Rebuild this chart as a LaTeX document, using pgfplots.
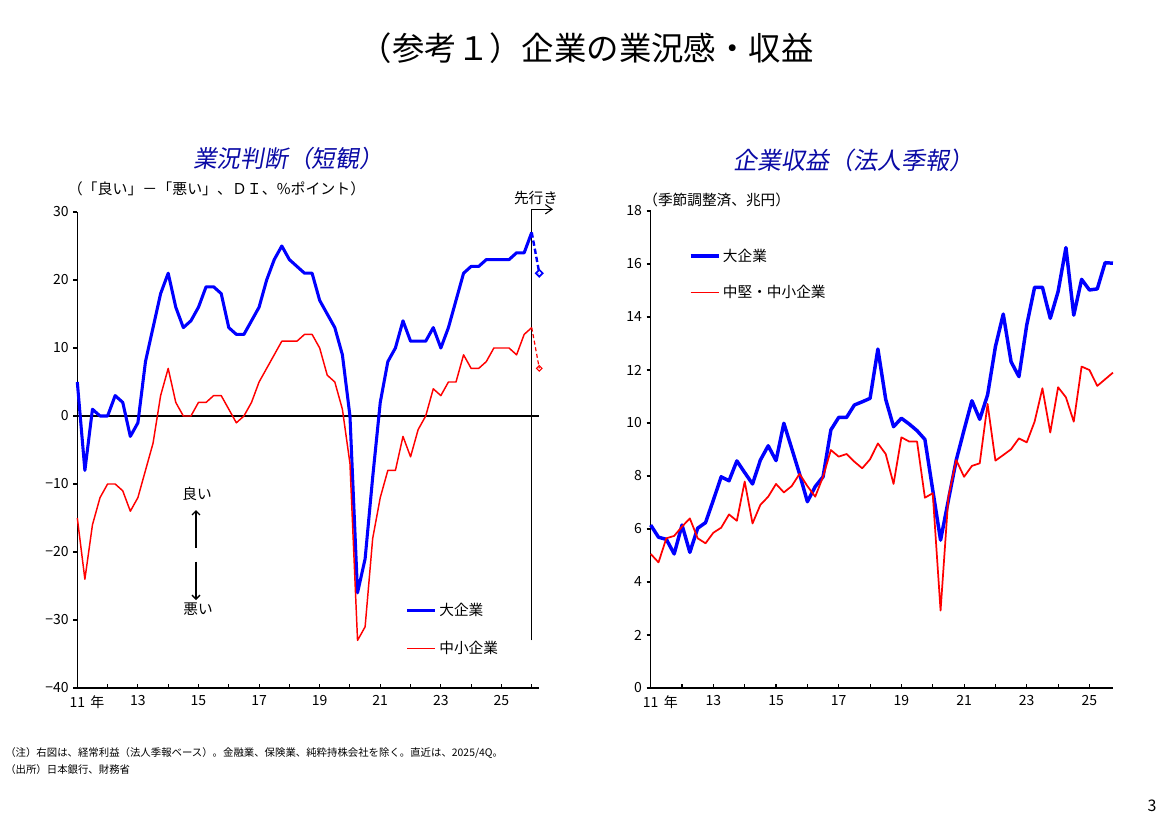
\documentclass[border=0pt]{standalone}
\usepackage{fontspec}
\setmainfont{Noto Sans CJK JP}
\newfontfamily\slantjp[FakeSlant=0.18]{Noto Sans CJK JP}
\usepackage{pgfplots}
\usepackage{pgfplotstable}
\pgfplotsset{compat=1.18}
\usetikzlibrary{arrows.meta}

\definecolor{lineblue}{RGB}{0,0,255}
\definecolor{linered}{RGB}{255,0,0}
\definecolor{headblue}{RGB}{10,10,165}

% 業況判断DI（大企業・中小企業）、四半期
\pgfplotstableread{
t       large small
2011.00   5  -15
2011.25  -8  -24
2011.50   1  -16
2011.75   0  -12
2012.00   0  -10
2012.25   3  -10
2012.50   2  -11
2012.75  -3  -14
2013.00  -1  -12
2013.25   8   -8
2013.50  13   -4
2013.75  18    3
2014.00  21    7
2014.25  16    2
2014.50  13    0
2014.75  14    0
2015.00  16    2
2015.25  19    2
2015.50  19    3
2015.75  18    3
2016.00  13    1
2016.25  12   -1
2016.50  12    0
2016.75  14    2
2017.00  16    5
2017.25  20    7
2017.50  23    9
2017.75  25   11
2018.00  23   11
2018.25  22   11
2018.50  21   12
2018.75  21   12
2019.00  17   10
2019.25  15    6
2019.50  13    5
2019.75   9    1
2020.00   0   -7
2020.25 -26  -33
2020.50 -21  -31
2020.75  -9  -18
2021.00   2  -12
2021.25   8   -8
2021.50  10   -8
2021.75  14   -3
2022.00  11   -6
2022.25  11   -2
2022.50  11    0
2022.75  13    4
2023.00  10    3
2023.25  13    5
2023.50  17    5
2023.75  21    9
2024.00  22    7
2024.25  22    7
2024.50  23    8
2024.75  23   10
2025.00  23   10
2025.25  23   10
2025.50  24    9
2025.75  24   12
2026.00  27   13
}\diTable

% 経常利益（季節調整済、兆円）
\pgfplotstableread{
t        large   sme
2011.00   6.15   5.06
2011.25   5.69   4.74
2011.50   5.61   5.65
2011.75   5.06   5.74
2012.00   6.15   6.09
2012.25   5.12   6.40
2012.50   6.03   5.65
2012.75   6.24   5.46
2013.00   7.09   5.86
2013.25   7.97   6.05
2013.50   7.82   6.55
2013.75   8.57   6.31
2014.00   8.13   7.79
2014.25   7.70   6.21
2014.50   8.60   6.91
2014.75   9.14   7.22
2015.00   8.58   7.70
2015.25   9.99   7.38
2015.50   9.04   7.62
2015.75   8.08   8.08
2016.00   7.03   7.62
2016.25   7.60   7.22
2016.50   7.97   7.97
2016.75   9.74   8.98
2017.00  10.21   8.73
2017.25  10.21   8.83
2017.50  10.68   8.54
2017.75  10.80   8.29
2018.00  10.93   8.63
2018.25  12.79   9.23
2018.50  10.89   8.83
2018.75   9.86   7.70
2019.00  10.18   9.46
2019.25   9.96   9.30
2019.50   9.71   9.30
2019.75   9.38   7.18
2020.00   7.47   7.35
2020.25   5.58   2.92
2020.50   7.09   7.22
2020.75   8.60   8.60
2021.00   9.74   7.97
2021.25  10.84   8.38
2021.50  10.14   8.48
2021.75  11.06  10.72
2022.00  12.88   8.58
2022.25  14.11   8.79
2022.50  12.31   9.01
2022.75  11.75   9.42
2023.00  13.70   9.27
2023.25  15.12  10.05
2023.50  15.12  11.31
2023.75  13.95   9.64
2024.00  14.96  11.35
2024.25  16.62  10.97
2024.50  14.07  10.05
2024.75  15.42  12.13
2025.00  15.02  12.00
2025.25  15.06  11.40
2025.50  16.05  11.65
2025.75  16.03  11.90
}\profitTable

\pgfplotsset{
  panel/.style={
    scale only axis, anchor=south west, clip=false,
    axis lines*=left,
    axis line style={black, line width=0.8pt},
    tick style={black, line width=0.8pt},
    major tick length=3pt,
    xtick align=inside, ytick align=outside,
    tick label style={font=\fontsize{10.5}{12}\selectfont},
    xticklabel style={yshift=-2pt},
    /pgf/number format/assume math mode=true,
    legend cell align=left,
    legend image code/.code={\draw[##1, line cap=butt] (0pt,0pt) -- (21pt,0pt);},
    legend style={draw=none, fill=none, inner sep=0pt, anchor=north west,
      nodes={inner sep=1pt}, column sep=1pt,
      font=\fontsize{11}{13}\selectfont},
  },
}

\begin{document}
\begin{tikzpicture}
\path (0pt,0pt) rectangle (877.5pt,-620.25pt);

% 表題
\node[font=\fontsize{24.3}{27}\selectfont] at (440pt,-36pt) {（参考１）企業の業況感・収益};
\node[font=\slantjp\fontsize{17.8}{20}\selectfont, text=headblue] at (216pt,-118.5pt) {業況判断（短観）};
\node[font=\slantjp\fontsize{18}{20}\selectfont, text=headblue] at (640pt,-120pt) {企業収益（法人季報）};
\node[font=\fontsize{11.2}{13}\selectfont] at (162.4pt,-141.75pt) {（「良い」－「悪い」、ＤＩ、\%ポイント）};
\node[font=\fontsize{11}{13}\selectfont] at (537.5pt,-150pt) {（季節調整済、兆円）};

% 業況判断（短観）
\begin{axis}[panel,
  at={(57.98pt,-516pt)}, width=346.5pt, height=357pt,
  xmin=2011, xmax=2026.25, ymin=-40, ymax=30,
  xtick={2011,...,2026},
  xticklabels={{11\rlap{\hspace{4pt}年}},,13,,15,,17,,19,,21,,23,,25,},
  ytick={-40,-30,-20,-10,0,10,20,30},
  yticklabels={−40,−30,−20,−10,0,10,20,30},
  legend style={at={(0.71,0.182)}, row sep=16pt},
]
\draw[black, line width=0.8pt] (axis cs:2011,0) -- (axis cs:2026.25,0);
\draw[black, line width=0.8pt] (axis cs:2026,-33) -- (axis cs:2026,30.4)
  -- (axis cs:2026.7,30.4) [-{Straight Barb[length=5pt,width=7pt]}];
\addplot[lineblue, line width=2.3pt, line join=round] table[x=t, y=large] {\diTable};
\addlegendentry{大企業}
\addplot[linered, line width=1.1pt, line join=round] table[x=t, y=small] {\diTable};
\addlegendentry{中小企業}
% 先行き
\addplot[lineblue, line width=1.8pt, dash pattern=on 4pt off 2.2pt, forget plot, mark=square, mark indices={2},
  mark size=1.8pt, mark options={solid, fill=white, rotate=45, line width=1.3pt}]
  coordinates {(2026,27) (2026.25,21)};
\addplot[linered, line width=0.9pt, dash pattern=on 3pt off 2pt, forget plot, mark=square, mark indices={2},
  mark size=1.45pt, mark options={solid, fill=white, rotate=45, line width=0.8pt}]
  coordinates {(2026,13) (2026.25,7)};
\end{axis}
\node[font=\fontsize{11}{13}\selectfont] at (402pt,-148.5pt) {先行き};

% 良い・悪い
\node[font=\fontsize{11}{13}\selectfont] at (147.75pt,-370.5pt) {良い};
\draw[line width=1pt, -{Straight Barb[length=3pt,width=6pt]}] (147pt,-410.8pt) -- (147pt,-382.5pt);
\draw[line width=1pt, -{Straight Barb[length=3pt,width=6pt]}] (147pt,-421.3pt) -- (147pt,-450pt);
\node[font=\fontsize{11}{13}\selectfont] at (148.5pt,-456.75pt) {悪い};

% 企業収益（法人季報）
\begin{axis}[panel,
  at={(488.0pt,-516pt)}, width=346.7pt, height=357.75pt,
  xmin=2011, xmax=2025.75, ymin=0, ymax=18,
  xtick={2011,...,2025},
  xticklabels={{11\rlap{\hspace{4pt}年}},,13,,15,,17,,19,,21,,23,,25},
  ytick={0,2,...,18},
  legend style={at={(0.082,0.924)}, row sep=14.5pt},
]
\addplot[lineblue, line width=2.6pt, line join=round] table[x=t, y=large] {\profitTable};
\addlegendentry{大企業}
\addplot[linered, line width=1.3pt, line join=round] table[x=t, y=sme] {\profitTable};
\addlegendentry{中堅・中小企業}
\end{axis}

% 注記
\node[anchor=west, inner sep=0pt, font=\fontsize{7.8}{9}\selectfont] at (3.75pt,-564.75pt)
  {（注）右図は、経常利益（法人季報ベース）。金融業、保険業、純粋持株会社を除く。直近は、2025/4Q。};
\node[anchor=west, inner sep=0pt, font=\fontsize{7.8}{9}\selectfont] at (3.75pt,-577.5pt)
  {（出所）日本銀行、財務省};
\node[font=\fontsize{12}{14}\selectfont] at (864pt,-604.5pt) {3};
\end{tikzpicture}
\end{document}
